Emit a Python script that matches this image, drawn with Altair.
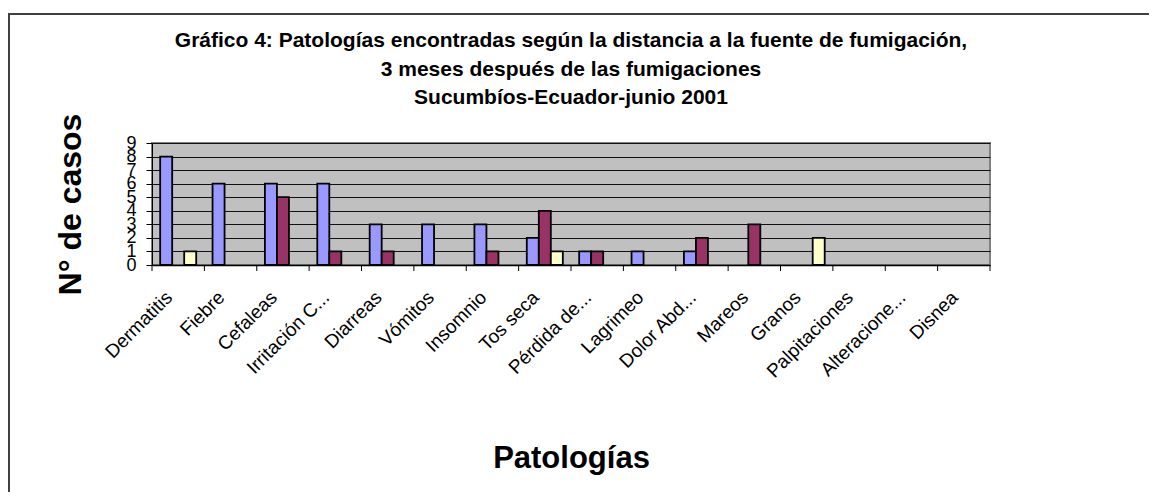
import altair as alt
import pandas as pd

categorias = ["Dermatitis", "Fiebre", "Cefaleas", "Irritación C...", "Diarreas",
              "Vómitos", "Insomnio", "Tos seca", "Pérdida de...", "Lagrimeo",
              "Dolor Abd...", "Mareos", "Granos", "Palpitaciones",
              "Alteracione...", "Disnea"]
series = ["Grupo 1", "Grupo 2", "Grupo 3"]
grupo1 = [8, 6, 6, 6, 3, 3, 3, 2, 1, 1, 1, 0, 0, 0, 0, 0]
grupo2 = [0, 0, 5, 1, 1, 0, 1, 4, 1, 0, 2, 3, 0, 0, 0, 0]
grupo3 = [1, 0, 0, 0, 0, 0, 0, 1, 0, 0, 0, 0, 2, 0, 0, 0]
colores = ["#9999FF", "#993366", "#FFFFCC"]
titulo = ["Gráfico 4: Patologías encontradas según la distancia a la fuente de fumigación,",
          "3 meses después de las fumigaciones",
          "Sucumbíos-Ecuador-junio 2001"]

rows = []
for s, vals in zip(series, [grupo1, grupo2, grupo3]):
    for c, v in zip(categorias, vals):
        rows.append({"cat": c, "serie": s, "valor": v})
df = pd.DataFrame(rows)
df_bars = df[df["valor"] > 0]
df_cats = pd.DataFrame({"cat": categorias})

W, H = 838, 122
xscale = alt.Scale(domain=categorias, paddingInner=0, paddingOuter=0)

bars = alt.Chart(df_bars).mark_bar(stroke="black", strokeWidth=1.8).encode(
    x=alt.X("cat:N", sort=categorias, scale=xscale, title="Patologías",
            axis=alt.Axis(labelAngle=315, labelAlign="right", labelBaseline="middle",
                          labelFontSize=19, labelPadding=29, labelColor="black",
                          labelOffset=-9, labelLimit=400, labelOverlap=False, ticks=False,
                          domainColor="black", domainWidth=1.5,
                          titleFontSize=31, titleFontWeight="bold", titleColor="black",
                          titleX=W / 2, titleY=202, titleAlign="center",
                          titleBaseline="alphabetic")),
    xOffset=alt.XOffset("serie:N", scale=alt.Scale(domain=series, paddingOuter=0.68,
                                                     paddingInner=0)),
    y=alt.Y("valor:Q", scale=alt.Scale(domain=[0, 9], nice=False), title="N° de casos",
            axis=alt.Axis(values=list(range(10)), labelFontSize=18, labelColor="black",
                          labelPadding=10, labelOverlap=False, tickSize=6,
                          tickColor="black", domainColor="black",
                          gridColor="#111111", gridWidth=1,
                          titleFontSize=32, titleFontWeight="bold", titleColor="black",
                          titleX=-82, titleY=H / 2, titleAngle=270, titleAlign="center",
                          titleBaseline="middle")),
    color=alt.Color("serie:N", scale=alt.Scale(domain=series, range=colores), legend=None),
)

ticks = alt.Chart(df_cats).mark_rule(color="black", strokeWidth=1).encode(
    x=alt.X("cat:N", sort=categorias, scale=xscale, bandPosition=0),
    y=alt.value(H),
    y2=alt.value(H + 6),
)
tick_last = alt.Chart(df_cats).transform_filter(
    alt.datum.cat == categorias[-1]
).mark_rule(color="black", strokeWidth=1).encode(
    x=alt.X("cat:N", sort=categorias, scale=xscale, bandPosition=1),
    y=alt.value(H),
    y2=alt.value(H + 6),
)

border_left = alt.Chart(df_cats.head(1)).mark_rule(color="#404040", strokeWidth=2).encode(
    x=alt.value(-143), y=alt.value(-129), y2=alt.value(400))
border_top = alt.Chart(df_cats.head(1)).mark_rule(color="#404040", strokeWidth=2).encode(
    x=alt.value(-144), x2=alt.value(1100), y=alt.value(-129))

chart = alt.layer(bars, ticks, tick_last, border_left, border_top).properties(
    width=W, height=H,
    padding={"left": 144, "top": 135, "right": 159, "bottom": 227},
    autosize=alt.AutoSizeParams(type="none"),
    title=alt.TitleParams(text=titulo, fontSize=21, fontWeight="bold", color="black",
                          lineHeight=28.5, anchor="middle", baseline="top",
                          offset=0, dy=95),
).configure(font="Liberation Sans").configure_view(
    fill="#C0C0C0", stroke="#808080", strokeWidth=2
)

chart.save("out.html", embed_options={"renderer": "svg", "actions": False})
